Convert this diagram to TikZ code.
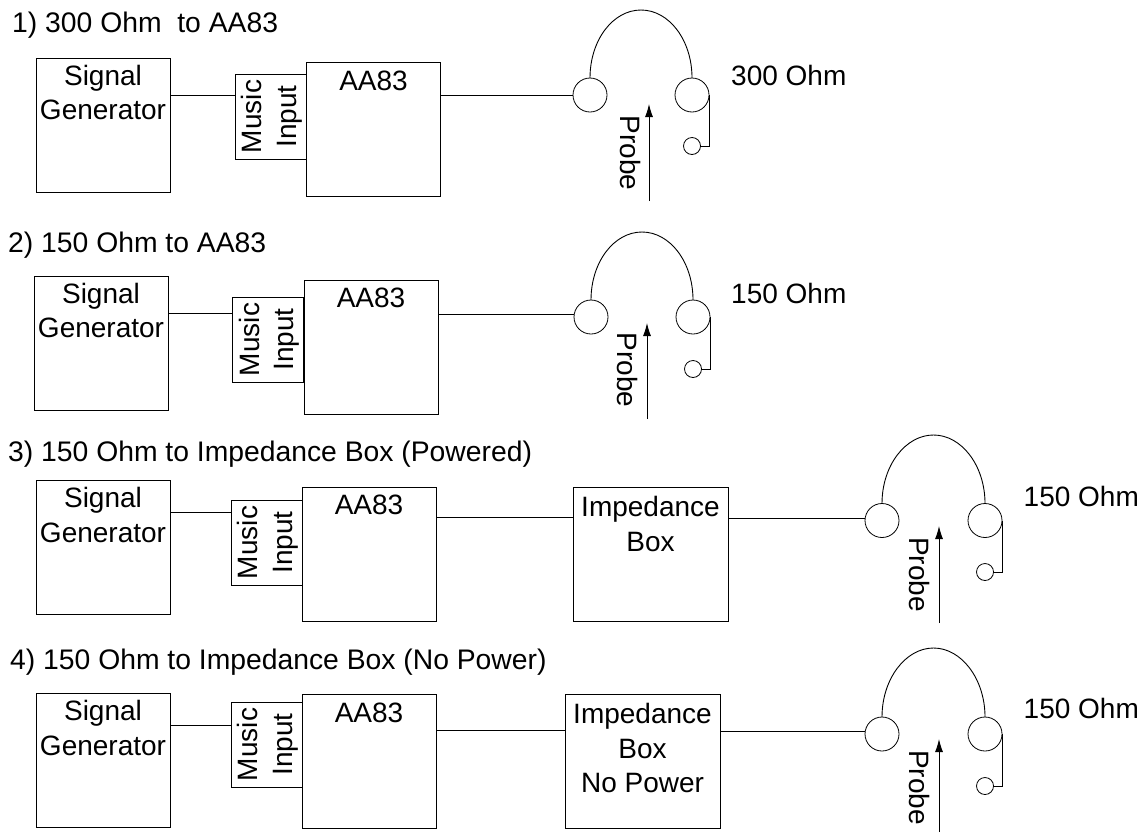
\documentclass[tikz,border=0pt]{standalone}
\usepackage{fontspec}
\setmainfont{Liberation Sans}
\usetikzlibrary{arrows.meta, calc, positioning}

\begin{document}
\begin{tikzpicture}[
  x=1pt, y=-1pt,
  box/.style={draw, line width=0.9pt, inner sep=0pt, outer sep=0pt, minimum width=134pt, minimum height=134pt},
  inbox/.style={draw, line width=0.9pt, inner sep=0pt, outer sep=0pt, minimum width=71pt, minimum height=85pt},
  impbox/.style={draw, line width=0.9pt, inner sep=0pt, outer sep=0pt, minimum width=155pt, minimum height=134pt},
  lbl/.style={inner sep=0pt, align=center, anchor=north, font=\fontsize{28}{34.5}\selectfont},
  side/.style={inner sep=0pt, align=center, font=\fontsize{28}{34.5}\selectfont},
  ttl/.style={inner sep=0pt, anchor=west, font=\fontsize{28.3}{34}\selectfont},
  cup/.style={draw, circle, line width=0.8pt, inner sep=0pt, outer sep=0pt, minimum size=34pt},
  jack/.style={draw, circle, line width=0.8pt, inner sep=0pt, outer sep=0pt, minimum size=17pt},
  wire/.style={line width=0.9pt},
  prb/.style={-{Latex[length=13pt,width=8pt]}, line width=0.9pt}
]
  \useasboundingbox (0,0) rectangle (1147,833);

  % panel 1
  \node[ttl] (ttl1) at (12,25) {1) 300 Ohm\ \ to AA83};
  \node[box]    (sg1)   at (103,125)    {};
  \node[inbox]  (mus1)  at (270.5,116.5) {};
  \node[box]    (aa1)   at (373.5,129)  {};
  \node[lbl]    (sgt1)  at ([yshift=-7pt]sg1.north) {Signal\\Generator};
  \node[lbl]    (aat1)  at ([yshift=-9pt]aa1.north) {AA83};
  \node[side, rotate=90] (must1) at ([xshift=1.5pt]mus1.center) {Music\\Input};
  \node[cup]    (cupl1) at (590,95)  {};
  \node[cup]    (cupr1) at (692,95)  {};
  \node[jack]   (jack1) at (692,146) {};
  \node[side, rotate=-90] (prt1) at (630,153) {Probe};
  \node[side, anchor=west] (ohm1) at (731,75) {300 Ohm};
  \coordinate (top1) at (641,10);
  \coordinate (pra1) at (649,201);
  \coordinate (prb1) at (649,104);
  \draw[wire] ([yshift=30pt]sg1.east) -- ([yshift=21.5pt]mus1.west);
  \draw[wire] ([yshift=34pt]aa1.east) -- (cupl1.west);
  \draw[wire] (cupl1.north) .. controls +(0,-38) and +(-28,0) .. (top1) .. controls +(28,0) and +(0,-38) .. (cupr1.north);
  \draw[wire] (cupr1.east) |- (jack1.east);
  \draw[prb] (pra1) -- (prb1);

  % panel 2
  \node[ttl] (ttl2) at (8,245) {2) 150 Ohm to AA83};
  \node[box]    (sg2)   at (101,343)    {};
  \node[inbox]  (mus2)  at (268,339.5)  {};
  \node[box]    (aa2)   at (371,347)    {};
  \node[lbl]    (sgt2)  at ([yshift=-7pt]sg2.north) {Signal\\Generator};
  \node[lbl]    (aat2)  at ([yshift=-8pt]aa2.north) {AA83};
  \node[side, rotate=90] (must2) at ([xshift=1.5pt]mus2.center) {Music\\Input};
  \node[cup]    (cupl2) at (591,317) {};
  \node[cup]    (cupr2) at (693,317) {};
  \node[jack]   (jack2) at (693,369) {};
  \node[side, rotate=-90] (prt2) at (627,370) {Probe};
  \node[side, anchor=west] (ohm2) at (731,293) {150 Ohm};
  \coordinate (top2) at (642,232);
  \coordinate (pra2) at (647,419);
  \coordinate (prb2) at (647,323);
  \draw[wire] ([yshift=30pt]sg2.east) -- ([yshift=26.5pt]mus2.west);
  \draw[wire] ([yshift=33pt]aa2.east) -- ([yshift=3pt]cupl2.west);
  \draw[wire] (cupl2.north) .. controls +(0,-38) and +(-28,0) .. (top2) .. controls +(28,0) and +(0,-38) .. (cupr2.north);
  \draw[wire] (cupr2.east) |- (jack2.east);
  \draw[prb] (pra2) -- (prb2);

  % panel 3
  \node[ttl] (ttl3) at (8,454) {3) 150 Ohm to Impedance Box (Powered)};
  \node[box]    (sg3)   at (103,547)    {};
  \node[inbox]  (mus3)  at (266.5,542.5) {};
  \node[box]    (aa3)   at (369,554)    {};
  \node[impbox] (imp3)  at (650.5,554)  {};
  \node[lbl]    (sgt3)  at ([yshift=-7pt]sg3.north)  {Signal\\Generator};
  \node[lbl]    (aat3)  at ([yshift=-8pt]aa3.north)  {AA83};
  \node[lbl]    (impt3) at ([yshift=-9pt]imp3.north) {Impedance\\Box};
  \node[side, rotate=90] (must3) at ([xshift=1.5pt]mus3.center) {Music\\Input};
  \node[cup]    (cupl3) at (882,520.5) {};
  \node[cup]    (cupr3) at (985,520.5) {};
  \node[jack]   (jack3) at (985,572)   {};
  \node[side, rotate=-90] (prt3) at (919.5,574.5) {Probe};
  \node[side, anchor=west] (ohm3) at (1023.5,496) {150 Ohm};
  \coordinate (top3) at (933.5,435);
  \coordinate (pra3) at (939,623);
  \coordinate (prb3) at (939,526);
  \draw[wire] ([yshift=34.5pt]sg3.east) -- ([yshift=30pt]mus3.west);
  \draw[wire] ([yshift=37pt]aa3.east) -- ([yshift=37pt]imp3.west);
  \draw[wire] ([yshift=36pt]imp3.east) -- ([yshift=2.5pt]cupl3.west);
  \draw[wire] (cupl3.north) .. controls +(0,-38) and +(-28,0) .. (top3) .. controls +(28,0) and +(0,-38) .. (cupr3.north);
  \draw[wire] (cupr3.east) |- (jack3.east);
  \draw[prb] (pra3) -- (prb3);

  % panel 4
  \node[ttl] (ttl4) at (10,662) {4) 150 Ohm to Impedance Box (No Power)};
  \node[box]    (sg4)   at (103,760)    {};
  \node[inbox]  (mus4)  at (266.5,744.5) {};
  \node[box]    (aa4)   at (369,761)    {};
  \node[impbox] (imp4)  at (642.5,761)  {};
  \node[lbl]    (sgt4)  at ([yshift=-7pt]sg4.north)  {Signal\\Generator};
  \node[lbl]    (aat4)  at ([yshift=-9pt]aa4.north)  {AA83};
  \node[lbl]    (impt4) at ([yshift=-9pt]imp4.north) {Impedance\\Box\\No Power};
  \node[side, rotate=90] (must4) at ([xshift=1.5pt]mus4.center) {Music\\Input};
  \node[cup]    (cupl4) at (882,734) {};
  \node[cup]    (cupr4) at (985,734) {};
  \node[jack]   (jack4) at (985,786) {};
  \node[side, rotate=-90] (prt4) at (919.5,787.5) {Probe};
  \node[side, anchor=west] (ohm4) at (1023.5,708) {150 Ohm};
  \coordinate (top4) at (933.5,648);
  \coordinate (pra4) at (939,832);
  \coordinate (prb4) at (939,739);
  \draw[wire] ([yshift=35pt]sg4.east) -- ([yshift=19.5pt]mus4.west);
  \draw[wire] ([yshift=31pt]aa4.east) -- ([yshift=31pt]imp4.west);
  \draw[wire] ([yshift=30pt]imp4.east) -- ([yshift=3pt]cupl4.west);
  \draw[wire] (cupl4.north) .. controls +(0,-38) and +(-28,0) .. (top4) .. controls +(28,0) and +(0,-38) .. (cupr4.north);
  \draw[wire] (cupr4.east) |- (jack4.east);
  \draw[prb] (pra4) -- (prb4);
\end{tikzpicture}
\end{document}
